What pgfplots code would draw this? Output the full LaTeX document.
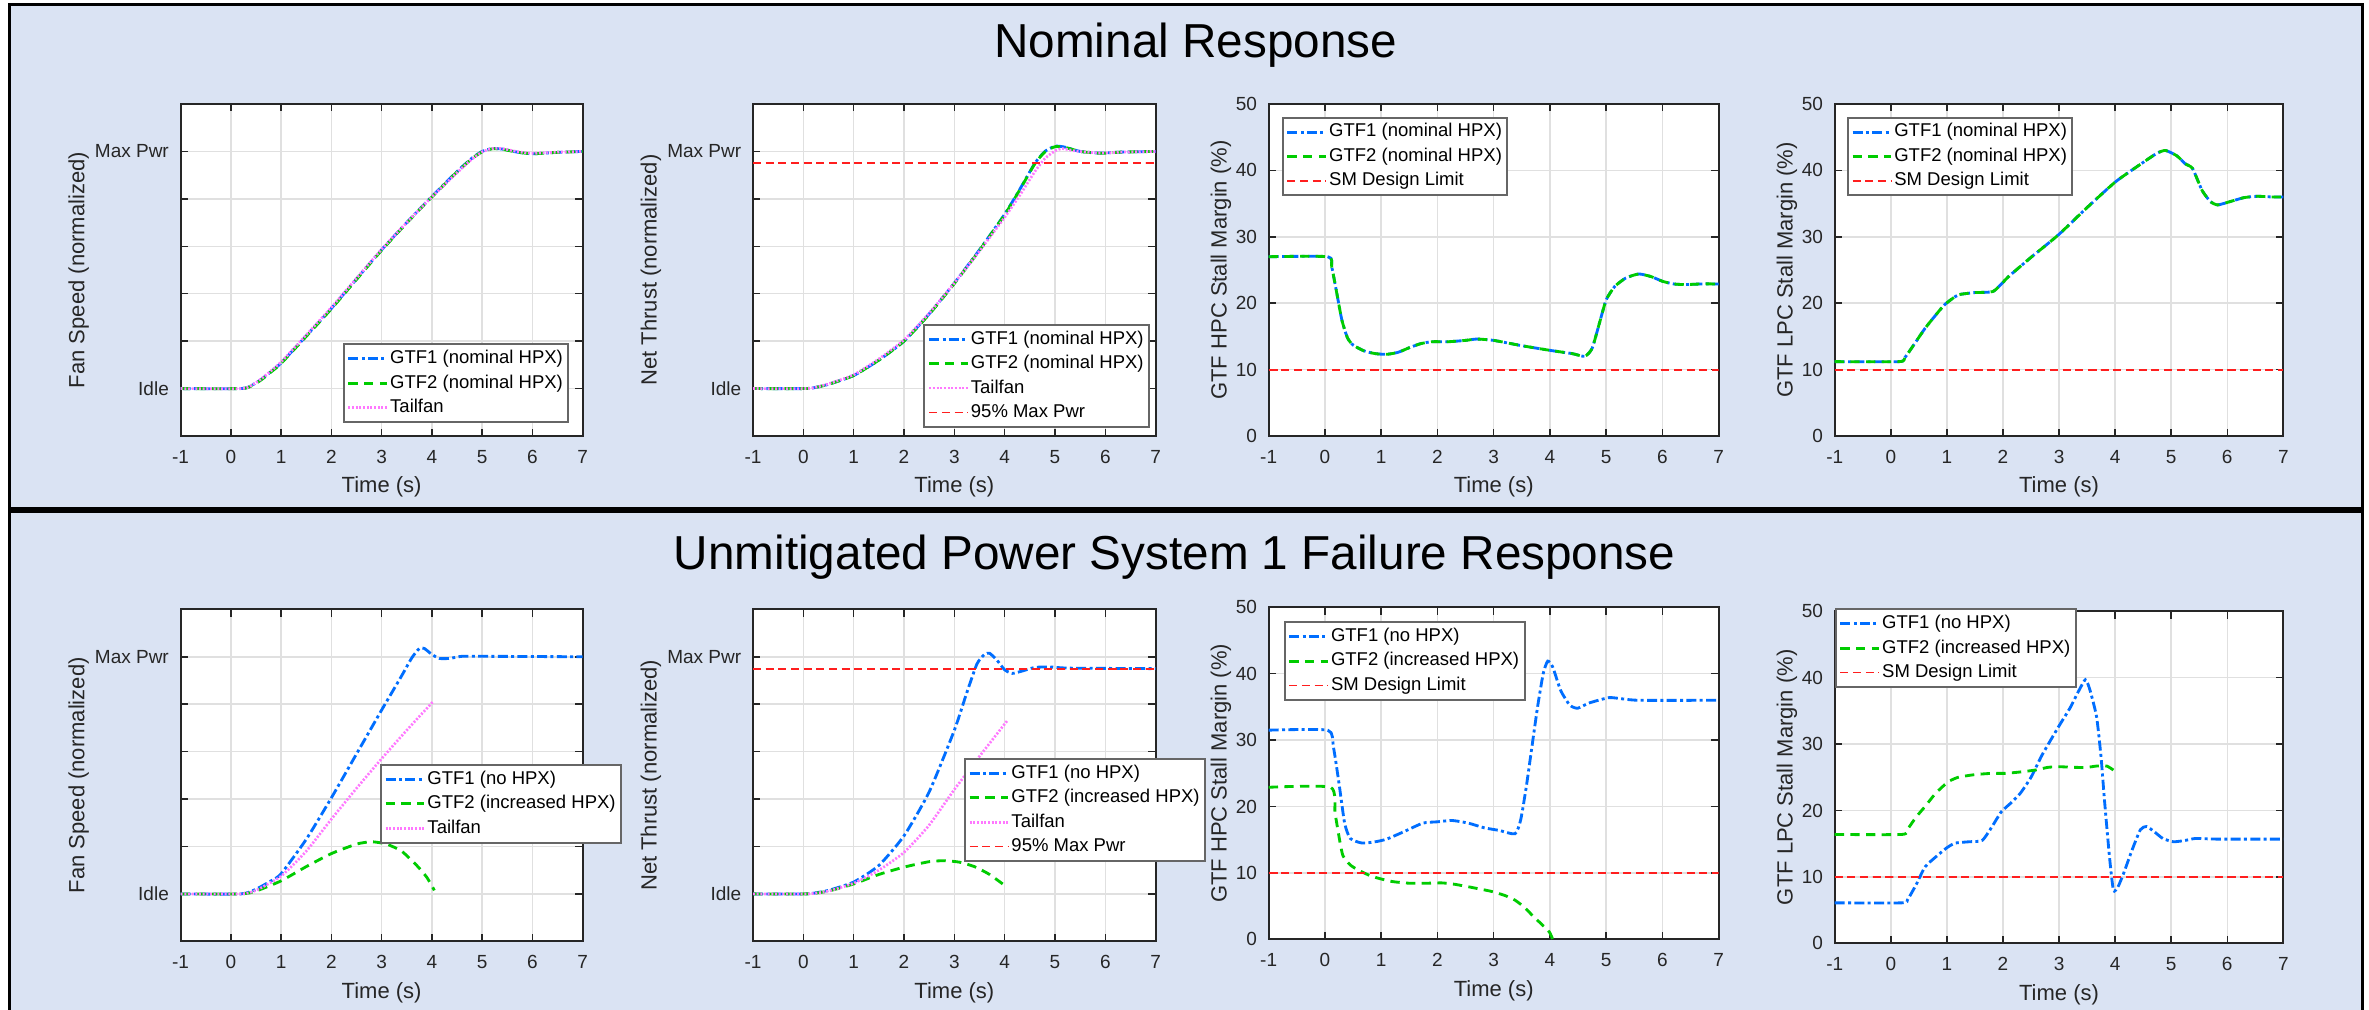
\documentclass[border=0pt]{standalone}
\usepackage{pgfplots}
\pgfplotsset{compat=1.18}
\usepackage{fontspec}
\setmainfont{Liberation Sans}
\definecolor{bgpanel}{RGB}{218,227,243}
\definecolor{cA}{RGB}{0,110,255}
\definecolor{cB}{RGB}{0,204,0}
\definecolor{cC}{RGB}{255,120,255}
\definecolor{cR}{RGB}{255,30,30}
\definecolor{txt}{RGB}{38,38,38}
\tikzset{
  gtfa/.style={color=cA, line width=0.85pt, dash pattern=on 3pt off 1pt on 0.9pt off 1pt},
  gtfb/.style={color=cB, line width=0.85pt, dash pattern=on 2.8pt off 1.9pt},
  tail/.style={color=cC, line width=0.8pt, dash pattern=on 0.6pt off 0.5pt},
  lim/.style={color=cR, line width=0.55pt, dash pattern=on 2.4pt off 1.4pt},
}
\pgfplotsset{
  mlab/.style={
    scale only axis, height=99.6pt,
    xmin=-1, xmax=7, xtick={-1,0,...,7},
    grid=major, major grid style={draw=black!12, line width=0.45pt},
    axis line style={draw=txt, line width=0.55pt},
    major tick style={draw=txt, line width=0.45pt}, major tick length=2.2pt,
    tick align=inside,
    axis background/.style={fill=white},
    tick label style={font=\fontsize{5.7pt}{6pt}\selectfont, text=txt},
    /pgf/number format/assume math mode=true,
    xticklabel style={anchor=center, yshift=-6.3pt},
    label style={font=\fontsize{6.6pt}{7.5pt}\selectfont, text=txt},
    xlabel={Time (s)},
    xlabel style={at={([yshift=-15.3pt]axis description cs:0.5,0)}, anchor=center},
    legend cell align=left,
    legend style={font=\fontsize{5.55pt}{6.6pt}\selectfont, draw=black!60, line width=0.6pt, fill=white,
      inner xsep=1pt, inner ysep=1pt, row sep=0.6pt,
      nodes={inner sep=0.6pt, text height=4.2pt, text depth=1.3pt}},
    legend image code/.code={\draw[##1] (0pt,0pt) -- (11.5pt,0pt);},
    every axis plot/.append style={smooth, tension=0.35},
  },
  fanax/.style={mlab, width=120.6pt, ymin=-0.2, ymax=1.2, ytick={0,0.2,0.4,0.6,0.8,1},
    yticklabels={Idle,,,,,Max Pwr},
    ylabel style={at={([xshift=-30.6pt]axis description cs:0,0.5)}, anchor=center}},
  smax/.style={mlab, width=134.8pt, ymin=0, ymax=50, ytick={0,10,...,50},
    ylabel style={at={([xshift=-14.3pt]axis description cs:0,0.5)}, anchor=center}},
}
\begin{document}
\begin{tikzpicture}
\useasboundingbox (0,0) rectangle (710.7pt,302.7pt);
\fill[white] (0,0) rectangle (710.7pt,302.7pt);
\filldraw[fill=bgpanel, draw=black, line width=0.9pt] (2.7pt,150pt) rectangle (708.6pt,301.2pt);
\filldraw[fill=bgpanel, draw=black, line width=0.9pt] (2.7pt,-5pt) rectangle (708.6pt,149.3pt);
\node[font=\fontsize{14.3pt}{16pt}\selectfont] at (358.7pt,289.2pt) {Nominal Response};
\node[font=\fontsize{14.3pt}{16pt}\selectfont] at (352.4pt,135.6pt) {Unmitigated Power System 1 Failure Response};

% ---------------- TOP ROW ----------------
\begin{axis}[fanax, at={(54.18pt,171.9pt)}, anchor=south west, ylabel={Fan Speed (normalized)},
  legend style={at={(1,0)}, anchor=south east, xshift=-4pt, yshift=3.9pt}]
\addplot[gtfa] coordinates {(-1,0)(0.2,0)(0.4,0.012)(0.6,0.038)(0.8,0.072)(1,0.108)(1.5,0.222)(2,0.338)(2.5,0.462)(3,0.585)(3.5,0.70)(4,0.81)(4.5,0.915)(4.8,0.972)(5.0,1.0)(5.2,1.012)(5.4,1.01)(5.7,0.997)(6.0,0.99)(6.4,0.995)(7,1.0)};
\addlegendentry{GTF1 (nominal HPX)}
\addplot[gtfb] coordinates {(-1,0)(0.2,0)(0.4,0.01)(0.6,0.036)(0.8,0.07)(1,0.106)(1.5,0.22)(2,0.336)(2.5,0.46)(3,0.583)(3.5,0.698)(4,0.808)(4.5,0.913)(4.8,0.97)(5.0,0.998)(5.2,1.011)(5.4,1.009)(5.7,0.997)(6.0,0.99)(6.4,0.995)(7,1.0)};
\addlegendentry{GTF2 (nominal HPX)}
\addplot[tail] coordinates {(-1,0)(0.2,0)(0.4,0.012)(0.6,0.04)(0.8,0.075)(1,0.112)(1.5,0.226)(2,0.342)(2.5,0.465)(3,0.587)(3.5,0.70)(4,0.808)(4.5,0.91)(4.8,0.968)(5.0,0.998)(5.2,1.012)(5.4,1.012)(5.7,0.999)(6.0,0.992)(6.4,0.996)(7,1.0)};
\addlegendentry{Tailfan}
\end{axis}

\begin{axis}[fanax, width=120.8pt, at={(225.9pt,171.9pt)}, anchor=south west, ylabel={Net Thrust (normalized)},
  legend style={at={(1,0)}, anchor=south east, xshift=-1.7pt, yshift=2.4pt}]
\addplot[gtfa] coordinates {(-1,0)(0,0)(0.2,0.003)(0.5,0.018)(1,0.055)(1.5,0.12)(2,0.2)(2.5,0.315)(3,0.445)(3.5,0.585)(4,0.735)(4.3,0.84)(4.6,0.95)(4.8,1.0)(5.0,1.022)(5.2,1.018)(5.5,1.0)(5.9,0.993)(6.3,0.997)(7,1.0)};
\addlegendentry{GTF1 (nominal HPX)}
\addplot[gtfb] coordinates {(-1,0)(0,0)(0.2,0.003)(0.5,0.018)(1,0.055)(1.5,0.12)(2,0.2)(2.5,0.313)(3,0.443)(3.5,0.583)(4,0.733)(4.3,0.838)(4.6,0.948)(4.8,0.998)(5.0,1.02)(5.2,1.017)(5.5,1.0)(5.9,0.992)(6.3,0.997)(7,1.0)};
\addlegendentry{GTF2 (nominal HPX)}
\addplot[tail] coordinates {(-1,0)(0,0)(0.2,0.003)(0.5,0.02)(1,0.058)(1.5,0.125)(2,0.205)(2.5,0.318)(3,0.445)(3.5,0.58)(4,0.722)(4.3,0.815)(4.6,0.915)(4.8,0.97)(5.0,1.002)(5.15,1.012)(5.4,1.002)(5.9,0.993)(6.3,0.997)(7,1.0)};
\addlegendentry{Tailfan}
\addplot[lim] coordinates {(-1,0.95)(7,0.95)};
\addlegendentry{95\% Max Pwr}
\end{axis}

\begin{axis}[smax, width=135pt, at={(380.6pt,171.9pt)}, anchor=south west, ylabel={GTF HPC Stall Margin (\%)},
  legend style={at={(0.029,0.962)}, anchor=north west}]
\addplot[gtfa] coordinates {(-1,27)(0.05,27)(0.12,25.5)(0.2,22)(0.3,17.5)(0.4,14.8)(0.5,13.7)(0.7,12.8)(0.9,12.4)(1.1,12.3)(1.3,12.6)(1.5,13.3)(1.7,13.9)(1.9,14.2)(2.2,14.2)(2.5,14.4)(2.7,14.6)(3.0,14.4)(3.5,13.6)(4.0,12.9)(4.4,12.4)(4.62,12.0)(4.75,13.2)(4.88,17)(5.0,20.5)(5.15,22.5)(5.35,23.8)(5.58,24.4)(5.8,24)(6.0,23.3)(6.2,22.9)(6.4,22.8)(6.7,22.9)(7,22.9)};
\addlegendentry{GTF1 (nominal HPX)}
\addplot[gtfb] coordinates {(-1,27)(0.05,27)(0.12,25.5)(0.2,22)(0.3,17.5)(0.4,14.8)(0.5,13.7)(0.7,12.8)(0.9,12.4)(1.1,12.3)(1.3,12.6)(1.5,13.3)(1.7,13.9)(1.9,14.2)(2.2,14.2)(2.5,14.4)(2.7,14.6)(3.0,14.4)(3.5,13.6)(4.0,12.9)(4.4,12.4)(4.62,12.0)(4.75,13.2)(4.88,17)(5.0,20.5)(5.15,22.5)(5.35,23.8)(5.58,24.4)(5.8,24)(6.0,23.3)(6.2,22.9)(6.4,22.8)(6.7,22.9)(7,22.9)};
\addlegendentry{GTF2 (nominal HPX)}
\addplot[lim] coordinates {(-1,10)(7,10)};
\addlegendentry{SM Design Limit}
\end{axis}

\begin{axis}[smax, width=134.6pt, at={(550.4pt,171.9pt)}, anchor=south west, ylabel={GTF LPC Stall Margin (\%)},
  legend style={at={(0.027,0.962)}, anchor=north west}]
\addplot[gtfa] coordinates {(-1,11.2)(0.15,11.2)(0.25,11.8)(0.4,13.6)(0.61,16.2)(0.8,18.2)(0.95,19.7)(1.1,20.7)(1.22,21.3)(1.5,21.6)(1.83,21.8)(2.1,24)(2.5,26.9)(2.99,30.3)(3.5,34.4)(4.01,38.3)(4.5,41.2)(4.75,42.6)(4.9,43)(5.1,42.2)(5.25,41)(5.38,40.3)(5.55,37)(5.7,35.3)(5.83,34.8)(6.05,35.3)(6.3,35.9)(6.53,36.1)(6.8,36)(7,36)};
\addlegendentry{GTF1 (nominal HPX)}
\addplot[gtfb] coordinates {(-1,11.2)(0.15,11.2)(0.25,11.8)(0.4,13.6)(0.61,16.2)(0.8,18.2)(0.95,19.7)(1.1,20.7)(1.22,21.3)(1.5,21.6)(1.83,21.8)(2.1,24)(2.5,26.9)(2.99,30.3)(3.5,34.4)(4.01,38.3)(4.5,41.2)(4.75,42.6)(4.9,43)(5.1,42.2)(5.25,41)(5.38,40.3)(5.55,37)(5.7,35.3)(5.83,34.8)(6.05,35.3)(6.3,35.9)(6.53,36.1)(6.8,36)(7,36)};
\addlegendentry{GTF2 (nominal HPX)}
\addplot[lim] coordinates {(-1,10)(7,10)};
\addlegendentry{SM Design Limit}
\end{axis}

% ---------------- BOTTOM ROW ----------------
\begin{axis}[fanax, at={(54.18pt,20.3pt)}, anchor=south west, ylabel={Fan Speed (normalized)},
  legend style={at={(0.496,0.534)}, anchor=north west}]
\addplot[gtfa] coordinates {(-1,0)(0.2,0)(0.5,0.02)(0.8,0.055)(1,0.085)(1.5,0.23)(2,0.405)(2.5,0.59)(3,0.775)(3.4,0.92)(3.6,0.995)(3.75,1.035)(3.85,1.035)(4.0,1.01)(4.15,0.993)(4.35,0.993)(4.6,1.002)(5,1.002)(7,1.0)};
\addlegendentry{GTF1 (no HPX)}
\addplot[gtfb] coordinates {(-1,0)(0.2,0)(0.5,0.012)(1,0.055)(1.5,0.115)(2,0.17)(2.5,0.21)(2.8,0.22)(3.1,0.21)(3.4,0.18)(3.7,0.12)(3.9,0.07)(4.05,0.015)};
\addlegendentry{GTF2 (increased HPX)}
\addplot[tail] coordinates {(-1,0)(0.2,0)(0.5,0.015)(1,0.075)(1.5,0.18)(2,0.315)(2.5,0.445)(3,0.57)(3.5,0.69)(4.02,0.81)};
\addlegendentry{Tailfan}
\end{axis}

\begin{axis}[fanax, width=120.8pt, at={(225.9pt,20.3pt)}, anchor=south west, ylabel={Net Thrust (normalized)},
  legend style={at={(0.524,0.552)}, anchor=north west}]
\addplot[gtfa] coordinates {(-1,0)(0,0)(0.2,0.003)(0.5,0.015)(1,0.05)(1.5,0.12)(2,0.245)(2.5,0.43)(3,0.69)(3.25,0.85)(3.45,0.97)(3.6,1.01)(3.7,1.015)(3.85,0.985)(4.0,0.945)(4.15,0.93)(4.35,0.94)(4.6,0.955)(4.9,0.957)(5.3,0.952)(7,0.95)};
\addlegendentry{GTF1 (no HPX)}
\addplot[gtfb] coordinates {(-1,0)(0,0)(0.2,0.002)(0.5,0.012)(1,0.042)(1.5,0.082)(2,0.113)(2.5,0.136)(2.8,0.14)(3.1,0.134)(3.4,0.115)(3.7,0.082)(4.05,0.028)};
\addlegendentry{GTF2 (increased HPX)}
\addplot[tail] coordinates {(-1,0)(0,0)(0.2,0.002)(0.5,0.012)(1,0.045)(1.5,0.1)(2,0.175)(2.5,0.29)(3,0.44)(3.5,0.58)(4.05,0.73)};
\addlegendentry{Tailfan}
\addplot[lim] coordinates {(-1,0.95)(7,0.95)};
\addlegendentry{95\% Max Pwr}
\end{axis}

\begin{axis}[smax, width=135pt, at={(380.6pt,20.9pt)}, anchor=south west, ylabel={GTF HPC Stall Margin (\%)},
  legend style={at={(0.033,0.958)}, anchor=north west}]
\addplot[gtfa] coordinates {(-1,31.5)(0.05,31.5)(0.15,29)(0.25,23.5)(0.35,17.5)(0.45,15.2)(0.66,14.5)(0.9,14.7)(1.1,15.1)(1.4,16.2)(1.74,17.5)(2,17.7)(2.26,17.9)(2.55,17.5)(2.83,16.8)(3.1,16.4)(3.38,15.9)(3.48,18)(3.58,23)(3.68,29)(3.78,35)(3.88,40)(3.96,41.9)(4.05,41)(4.19,37.5)(4.35,35.3)(4.49,34.8)(4.7,35.6)(5.05,36.4)(5.3,36.2)(5.6,36.0)(7,36)};
\addlegendentry{GTF1 (no HPX)}
\addplot[gtfb] coordinates {(-1,22.9)(0.1,22.9)(0.18,19)(0.26,15)(0.32,12.6)(0.45,11.2)(0.6,10.4)(0.8,9.6)(0.95,9.2)(1.2,8.7)(1.5,8.45)(1.8,8.45)(2.08,8.5)(2.3,8.3)(2.56,7.9)(2.8,7.5)(2.97,7.2)(3.2,6.6)(3.38,5.9)(3.55,4.8)(3.71,3.4)(3.85,2.3)(3.99,1.1)(4.05,0)};
\addlegendentry{GTF2 (increased HPX)}
\addplot[lim] coordinates {(-1,10)(7,10)};
\addlegendentry{SM Design Limit}
\end{axis}

\begin{axis}[smax, width=134.6pt, at={(550.4pt,19.7pt)}, anchor=south west, ylabel={GTF LPC Stall Margin (\%)},
  legend style={at={(0,1.009)}, anchor=north west}]
\addplot[gtfa] coordinates {(-1,6.1)(0.2,6.1)(0.3,6.6)(0.45,8.8)(0.61,11.5)(0.8,13)(1.0,14.4)(1.15,15.1)(1.4,15.3)(1.63,15.5)(1.8,17.5)(1.97,19.8)(2.15,21.2)(2.31,22.6)(2.5,25)(2.7,28.4)(2.99,32.6)(3.2,35.5)(3.35,38)(3.47,39.7)(3.55,38.2)(3.67,34.1)(3.75,28)(3.81,21.6)(3.9,13)(3.97,8.0)(4.05,8.5)(4.15,10.5)(4.3,14)(4.45,17.1)(4.56,17.6)(4.7,16.8)(4.85,15.8)(5.04,15.3)(5.25,15.5)(5.44,15.8)(5.8,15.7)(7,15.7)};
\addlegendentry{GTF1 (no HPX)}
\addplot[gtfb] coordinates {(-1,16.4)(0.2,16.4)(0.3,17.2)(0.45,19)(0.61,20.6)(0.8,22.6)(1.02,24.3)(1.2,25)(1.49,25.4)(1.8,25.6)(2.04,25.6)(2.3,25.8)(2.58,26.1)(2.8,26.5)(2.99,26.6)(3.3,26.5)(3.5,26.5)(3.67,26.7)(3.85,26.7)(3.97,26.1)};
\addlegendentry{GTF2 (increased HPX)}
\addplot[lim] coordinates {(-1,10)(7,10)};
\addlegendentry{SM Design Limit}
\end{axis}
\end{tikzpicture}
\end{document}
